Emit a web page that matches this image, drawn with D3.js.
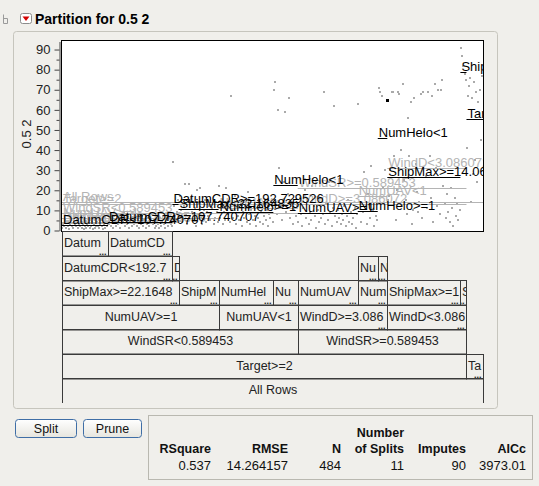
<!DOCTYPE html>
<html><head><meta charset="utf-8">
<script src="https://cdn.jsdelivr.net/npm/d3@7"></script>
<style>
html,body{margin:0;padding:0;background:#f0efeb;}
svg{display:block;font-family:Arial,"Liberation Sans",sans-serif;}
</style></head><body>
<svg id="c" width="539" height="486"></svg>
<script>
// ---------- data ----------
const title = "Partition for 0.5 2";
const yTitle = "0.5 2";
const yTicks = [0,10,20,30,40,50,60,70,80,90];
const yMinorTicks = [5,15,25,35,45,55,65,75,85];

const nodeLabels = [
 "All Rows","Target>=2","Target<2","WindSR<0.589453","WindSR>=0.589453",
 "NumUAV>=1","NumUAV<1","WindD>=3.086072","WindD<3.086072",
 "ShipMax>=22.164835","ShipMax<22.164835","NumHelo>=1","NumHelo<1",
 "NumUAV>=1","NumUAV<1","ShipMax>=14.0625","ShipMax<14.0625",
 "DatumCDR<192.729526","DatumCDR>=192.729526","NumHelo>=1","NumHelo<1",
 "DatumCDR<107.740707","DatumCDR>=107.740707"
];
// text as it appears (truncated) inside the tree boxes
const boxLabels = [
 "All Rows","Target>=2","Ta","WindSR<0.589453","WindSR>=0.589453",
 "NumUAV>=1","NumUAV<1","WindD>=3.086","WindD<3.086",
 "ShipMax>=22.1648","ShipM","NumHel","Nu",
 "NumUAV","Num","ShipMax>=1","S",
 "DatumCDR<192.7","D","Nu","N",
 "Datum","DatumCD"
];
const nodeParents = [-1,0,0,1,1,3,3,4,4,5,5,6,6,7,7,8,8,9,9,14,14,17,17];
const nodeMeans   = [14.4,13.2,55.7,8.5,20.9,6,11,13,31.3,4,10.5,9,22.4,8.5,17,26.4,78.6,3.5,13,9.5,45.8,2.5,4];
const leafCounts  = [0,0,19,0,0,0,0,0,0,0,46,63,28,69,0,84,7,0,7,23,11,53,74];

// point values per leaf (read left to right)
const valsDatum   = [1,3,2,5,1,4,2,0.5,3,6,2,1,4,3,2,5,1,3,2,4,1,3,0.5,2,4,1,3,2,5,1,2,4,0.5,3,1,2,
                     4,2,1,3,5,2,0.5,3,1,4,2,3];
const valsDatumCD = [3,6,2,5,1,7,4,2,8,3,5,1,6,4,9,2,5,3,7,1,4,6,2,8,3,5,2,4,1,6,3,7,2,5,4,1,3,6,2,4,8,3,5,1,2,
                     5,3,1,6,2,4,7,3,1,5,2,6,4,3,2];
const valsD       = [34,12,5,9,15];
const valsShipM   = [6,17,10,4,12,23,8,3,14,23,7,16,9,5,11,2,20,8,13,21,6,3,10,15,4,9,7,12,5,8,11,3,6,14,9,4];
const valsNumHel  = [22,6,12,3,9,5,21,8,14,4,67,10,6,17,3,11,7,5,13,2,9,6,12,4,19,8,3,10,5,15,7,2,11,6,
                     4,9,13,3,7,5,10,2,8,6,12,4];
const valsNu1     = [70,74,8,60,31,12,5,24,59,9,18,66,6,14,3,10,7,12];
const valsNumUAV  = [4,16,8,2,11,20,6,14,3,9,5,22,12,7,1,10,4,16,6,8,69,3,13,5,24,9,2,11,62,7,4,10,6,3,8,
                     5,12,2,7,15,4,9,3,6,11,1,8];
const valsNu2     = [63,14,4,9,29,12,3,18,6,32,10,2,7,5];
const valsN       = [71,69,67,21,30,65];
const valsShipHi  = [15,17,30,69,69,37,5,20,69,68,40,12,73,25,15,8,56,37,64,3,10,66,33,19,9,14,68,6,69,49,27,11,69,37,16,67,4,73,31,12,70,8,70,75,22,13,
                     6,18,9,4,21,11,2,16,7,13,5,10];
const valsS       = [91,87,82,78,75];
const valsTa      = [41,67,72,76,14,66,28,74,35,69,24,64,58,70,45,77];
const leafPointSets = [[21,valsDatum],[22,valsDatumCD],[18,valsD],[10,valsShipM],[11,valsNumHel],
  [12,valsNu1],[13,valsNumUAV],[19,valsNu2],[20,valsN],[15,valsShipHi],[16,valsS],[2,valsTa]];
const selectedPoint = [20,5]; // leaf node, index (drawn black)

const statHeaders = ["RSquare","RMSE","N","of Splits","Imputes","AICc"];
const statValues  = ["0.537","14.264157","484","11","90","3973.01"];

// ---------- layout ----------
const svg = d3.select("#c");
const FONT = 'Arial,"Liberation Sans",sans-serif';
const plot = {l:62, r:483, t:41, b:231};

const rows = nodeLabels.map((l,i)=>({id:String(i), parent: nodeParents[i]<0 ? "" : String(nodeParents[i]),
  label:l, box:boxLabels[i], mean:nodeMeans[i], n:leafCounts[i]}));
const root = d3.stratify().id(d=>d.id).parentId(d=>d.parent)(rows);
root.sum(d=>d.n);
root.start = 0;
root.eachBefore(node=>{ let s=node.start; if(node.children) node.children.forEach(c=>{c.start=s; s+=c.value;}); });

const x = d3.scaleLinear().domain([0, root.value]).range([plot.l, plot.r]);
const y = d3.scaleLinear().domain([0, 94]).range([230.5, 41.5]);

// ---------- header & outline ----------
svg.append("rect").attr("x",13.5).attr("y",31.5).attr("width",484).attr("height",377).attr("rx",3)
  .attr("fill","none").attr("stroke","#c6c5bd");
svg.append("path").attr("d","M3.5,14.5 v9 M3.5,18.5 h4 v5 h-4").attr("fill","none").attr("stroke","#9a9a9a");
svg.append("rect").attr("x",20.5).attr("y",13.5).attr("width",11).attr("height",10).attr("rx",2)
  .attr("fill","#fff").attr("stroke","#8c8c8c");
svg.append("path").attr("d","M22.5,16.5 L29.5,16.5 L26,21 Z").attr("fill","#d40000");
svg.append("text").attr("x",35).attr("y",24).attr("font-size",14).attr("font-weight","bold")
  .attr("fill","#000").text(title);

// ---------- plot ----------
svg.append("rect").attr("x",plot.l).attr("y",plot.t).attr("width",plot.r-plot.l).attr("height",plot.b-plot.t)
  .attr("fill","#fff");
const defs = svg.append("defs");
defs.append("clipPath").attr("id","plotclip").append("rect")
  .attr("x",plot.l).attr("y",plot.t).attr("width",plot.r-plot.l).attr("height",plot.b-plot.t);
const pg = svg.append("g").attr("clip-path","url(#plotclip)");

const nodeById = new Map(); root.each(n=>nodeById.set(+n.id, n));

// points
leafPointSets.forEach(([id, vals])=>{
  const nd = nodeById.get(id);
  vals.forEach((v,i)=>{
    const px = x(nd.start + (i+0.5)/vals.length*nd.value);
    const sel = selectedPoint[0]===id && selectedPoint[1]===i;
    pg.append("rect").attr("x",Math.round(px)-1).attr("y",Math.round(y(v))-1)
      .attr("width",sel?3:2).attr("height",sel?3:2).attr("fill",sel?"#000":"#aaaaaa");
  });
});

// node mean lines + labels: internal (grey) first, then leaves (black)
const allNodes = root.descendants();
const internals = allNodes.filter(n=>n.children);
const leaves = allNodes.filter(n=>!n.children);
function drawNodeLine(n, col){
  const yy = Math.round(y(n.data.mean))+0.5;
  pg.append("line").attr("x1",x(n.start)).attr("x2",x(n.start+n.value)).attr("y1",yy).attr("y2",yy)
    .attr("stroke",col).attr("stroke-width",1);
  pg.append("text").attr("x",x(n.start)+1).attr("y",yy-1.5).attr("font-size",13).attr("fill",col)
    .text(n.data.label);
}
internals.forEach(n=>drawNodeLine(n,"#b4b4b4"));
leaves.forEach(n=>drawNodeLine(n,"#000"));

svg.append("rect").attr("x",plot.l-0.5).attr("y",plot.t-0.5).attr("width",plot.r-plot.l+1).attr("height",plot.b-plot.t+1)
  .attr("fill","none").attr("stroke","#000");

// axis
const ax = svg.append("g").attr("transform","translate(59.5,0)")
  .call(d3.axisLeft(y).tickValues(yTicks).tickSize(5).tickSizeOuter(0).tickPadding(4));
ax.selectAll("text").attr("font-size",13).attr("font-family",FONT).attr("fill","#222");
ax.select(".domain").attr("stroke","#444");
ax.selectAll(".tick line").attr("stroke","#444");
const axm = svg.append("g").attr("transform","translate(59.5,0)")
  .call(d3.axisLeft(y).tickValues(yMinorTicks).tickSize(3).tickSizeOuter(0).tickFormat(""));
axm.select(".domain").remove();
axm.selectAll(".tick line").attr("stroke","#444");
svg.append("text").attr("transform","translate(31,134) rotate(-90)").attr("text-anchor","middle")
  .attr("font-size",13).attr("fill","#222").text(yTitle);

// ---------- tree boxes ----------
const rowH = 24.5, rowBase = 378;
const tg = svg.append("g");
allNodes.forEach((n,k)=>{
  const x0 = Math.round(x(n.start))+0.5, x1 = Math.round(x(n.start+n.value))+0.5;
  const top = Math.round(rowBase - n.depth*rowH)+0.5;
  if(n.depth===0){
    tg.append("path").attr("d",`M${x0},403 V${top} H${x1} V403`).attr("fill","none").attr("stroke","#3a3a3a");
  } else {
    tg.append("rect").attr("x",x0).attr("y",top).attr("width",x1-x0).attr("height",rowH)
      .attr("fill","none").attr("stroke","#3a3a3a");
  }
  const bw = x1-x0;
  defs.append("clipPath").attr("id","bc"+k).append("rect").attr("x",x0+0.5).attr("y",top).attr("width",bw-1).attr("height",rowH);
  const label = n.data.box, trunc = label !== n.data.label;
  const t = tg.append("text").attr("clip-path",`url(#bc${k})`).attr("font-size",12.5).attr("fill","#222")
    .attr("y",top+15.5).text(label);
  if(trunc){
    t.attr("x",x0+1.5);
    tg.append("text").attr("clip-path",`url(#bc${k})`).attr("x",x1-2).attr("y",top+rowH-1.5).attr("text-anchor","end")
      .attr("font-size",9).attr("font-weight","bold").attr("fill","#222").text("...");
  } else {
    t.attr("x",(x0+x1)/2).attr("text-anchor","middle");
  }
});

// ---------- buttons ----------
const grad = defs.append("linearGradient").attr("id","bg").attr("x1",0).attr("y1",0).attr("x2",0).attr("y2",1);
grad.append("stop").attr("offset","0").attr("stop-color","#ffffff");
grad.append("stop").attr("offset","1").attr("stop-color","#e6e5de");
[["Split",15.5,61],["Prune",83.5,58]].forEach(([s,bx,bwid])=>{
  svg.append("rect").attr("x",bx).attr("y",419.5).attr("width",bwid).attr("height",18).attr("rx",3)
    .attr("fill","url(#bg)").attr("stroke","#3f6ea6");
  svg.append("text").attr("x",bx+bwid/2).attr("y",433).attr("text-anchor","middle").attr("font-size",12.5)
    .attr("fill","#111").text(s);
});

// ---------- stats table ----------
svg.append("rect").attr("x",148.5).attr("y",415.5).attr("width",384).attr("height",64)
  .attr("fill","none").attr("stroke","#b9b8b0");
const colRight = [211,288,341,404,466,526];
svg.append("text").attr("x",colRight[3]).attr("y",436.5).attr("text-anchor","end").attr("font-size",12.5)
  .attr("font-weight","bold").attr("fill","#111").text("Number");
statHeaders.forEach((h,i)=>{
  svg.append("text").attr("x",colRight[i]).attr("y",452.5).attr("text-anchor","end").attr("font-size",12.5)
    .attr("font-weight","bold").attr("fill","#111").text(h);
  svg.append("text").attr("x",colRight[i]).attr("y",470).attr("text-anchor","end").attr("font-size",13)
    .attr("fill","#111").text(statValues[i]);
});
</script>
</body></html>
